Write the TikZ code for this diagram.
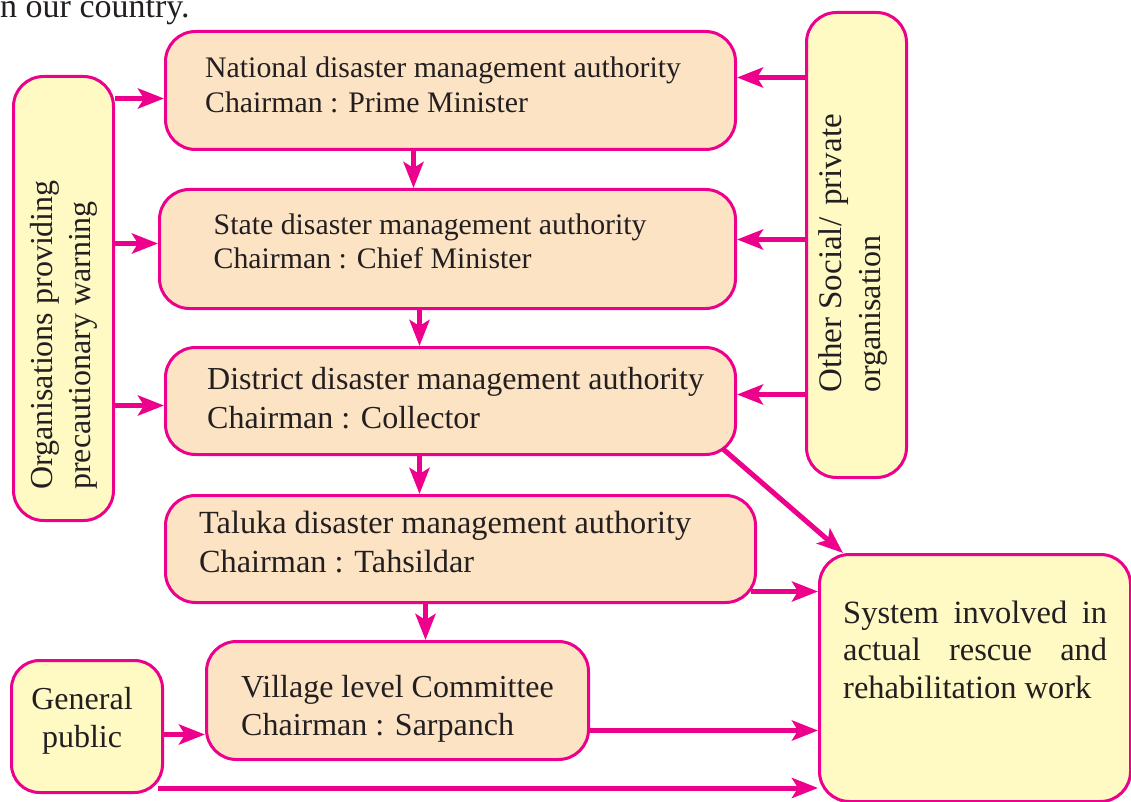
\documentclass[tikz,border=0pt]{standalone}
\usepackage{fontspec}
\setmainfont{Liberation Serif}
\usetikzlibrary{arrows.meta,calc}
\definecolor{mag}{HTML}{EC008C}
\definecolor{peach}{HTML}{FCE3C4}
\definecolor{lemon}{HTML}{FFF9C4}
\definecolor{ink}{HTML}{231F20}
\begin{document}
\begin{tikzpicture}[x=1pt,y=-1pt,
  box/.style={draw=mag, line width=3pt, rounded corners=30pt, inner sep=0pt, anchor=north west},
  peachbox/.style={box, fill=peach},
  lemonbox/.style={box, fill=lemon},
  arr/.style={draw=mag, line width=5pt, -{Stealth[length=26pt,width=20pt,inset=6pt]}},
  txt/.style={text=ink, inner sep=0pt, anchor=base west}]
\useasboundingbox (0,0) rectangle (1131,802);

% intro text (cut off)
\node[txt, font=\fontsize{34}{40}\selectfont] (intro) at (0,18) {n our country.};

% boxes
\node[peachbox, minimum width=570pt, minimum height=118pt] (nat) at (164,30) {};
\node[peachbox, minimum width=576pt, minimum height=119pt] (state) at (158,188) {};
\node[peachbox, minimum width=570pt, minimum height=107pt] (dist) at (164,346) {};
\node[peachbox, minimum width=590pt, minimum height=107pt] (tal) at (164,494) {};
\node[peachbox, minimum width=382pt, minimum height=118pt] (vil) at (205,640) {};
\node[lemonbox, minimum width=100pt, minimum height=444pt] (org) at (12,75) {};
\node[lemonbox, minimum width=100pt, minimum height=465pt] (oth) at (805,11) {};
\node[lemonbox, minimum width=151pt, minimum height=132pt, rounded corners=28pt] (gen) at (10,659) {};
\node[lemonbox, minimum width=311pt, minimum height=247pt] (sys) at (818,553) {};

% texts
\node[txt, font=\fontsize{29.8}{36}\selectfont] (natA) at (205,78) {National disaster management authority};
\node[txt, font=\fontsize{29.8}{36}\selectfont] (natB) at (205,113) {Chairman : Prime Minister};
\node[txt, font=\fontsize{29.8}{36}\selectfont] (stA) at (213.5,234) {State disaster management authority};
\node[txt, font=\fontsize{29.8}{36}\selectfont] (stB) at (213.5,268) {Chairman : Chief Minister};
\node[txt, font=\fontsize{32}{38}\selectfont] (diA) at (207,389) {District disaster management authority};
\node[txt, font=\fontsize{32}{38}\selectfont] (diB) at (207,428) {Chairman : Collector};
\node[txt, font=\fontsize{32.3}{38}\selectfont] (taA) at (199,533) {Taluka disaster management authority};
\node[txt, font=\fontsize{32.3}{38}\selectfont] (taB) at (199,572) {Chairman : Tahsildar};
\node[txt, font=\fontsize{32}{38}\selectfont] (viA) at (241,697) {Village level Committee};
\node[txt, font=\fontsize{32}{38}\selectfont] (viB) at (241,735.5) {Chairman : Sarpanch};
\node[txt, anchor=base, font=\fontsize{32}{38}\selectfont] (geA) at (82,709) {General};
\node[txt, anchor=base, font=\fontsize{32}{38}\selectfont] (geB) at (82,747) {public};
\node[txt, font=\fontsize{32.5}{38}\selectfont] (syA) at (843,623) {\makebox[264pt][s]{System involved in}};
\node[txt, font=\fontsize{32.5}{38}\selectfont] (syB) at (843,660) {\makebox[264pt][s]{actual rescue and}};
\node[txt, font=\fontsize{32.5}{38}\selectfont] (syC) at (843,698) {rehabilitation work};
\node[txt, rotate=90, font=\fontsize{32}{38}\selectfont] (orA) at (52,490) {Organisations providing};
\node[txt, rotate=90, font=\fontsize{32}{38}\selectfont] (orB) at (90,490) {precautionary warning};
\node[txt, rotate=90, font=\fontsize{33}{38}\selectfont] (otA) at (841,393) {Other Social/\hspace{12pt}private};
\node[txt, rotate=90, font=\fontsize{32}{38}\selectfont] (otB) at (880,393) {organisation};

% vertical arrows
\coordinate (a1) at ($(nat.south)+(-37,0)$);
\draw[arr] (a1) -- (a1 |- state.north);
\coordinate (a2) at ($(state.south)+(-28,0)$);
\draw[arr] (a2) -- (a2 |- dist.north);
\coordinate (a3) at ($(dist.south)+(-31,0)$);
\draw[arr] (a3) -- (a3 |- tal.north);
\coordinate (a4) at ($(tal.south)+(-35,0)$);
\draw[arr] (a4) -- (a4 |- vil.north);

% left arrows
\coordinate (l1) at ($(nat.west)+(0,8)$);
\draw[arr] (l1 -| org.east) -- (l1);
\coordinate (l2) at ($(state.west)+(0,-5.5)$);
\draw[arr] (l2 -| org.east) -- (l2);
\coordinate (l3) at ($(dist.west)+(0,4.5)$);
\draw[arr] (l3 -| org.east) -- (l3);

% right arrows
\coordinate (r1) at ($(nat.east)+(0,-13)$);
\draw[arr] (r1 -| oth.west) -- (r1);
\coordinate (r2) at ($(state.east)+(0,-9.5)$);
\draw[arr] (r2 -| oth.west) -- (r2);
\coordinate (r3) at ($(dist.east)+(0,-6.5)$);
\draw[arr] (r3 -| oth.west) -- (r3);

% to system
\coordinate (d1) at ($(dist.south east)+(-14,-7)$);
\coordinate (d2) at ($(sys.north west)+(25,0)$);
\draw[arr] (d1) -- (d2);
\coordinate (s1) at ($(tal.east)+(-6,42.5)$);
\draw[arr] (s1) -- (s1 -| sys.west);
\coordinate (s2) at ($(vil.east)+(0,30)$);
\draw[arr] (s2) -- (s2 -| sys.west);
\coordinate (g1) at ($(gen.east)+(0,8)$);
\draw[arr] (g1) -- (g1 -| vil.west);
\coordinate (g2) at ($(gen.south east)+(-6,-6)$);
\draw[arr] (g2) -- (g2 -| sys.west);
\end{tikzpicture}
\end{document}
